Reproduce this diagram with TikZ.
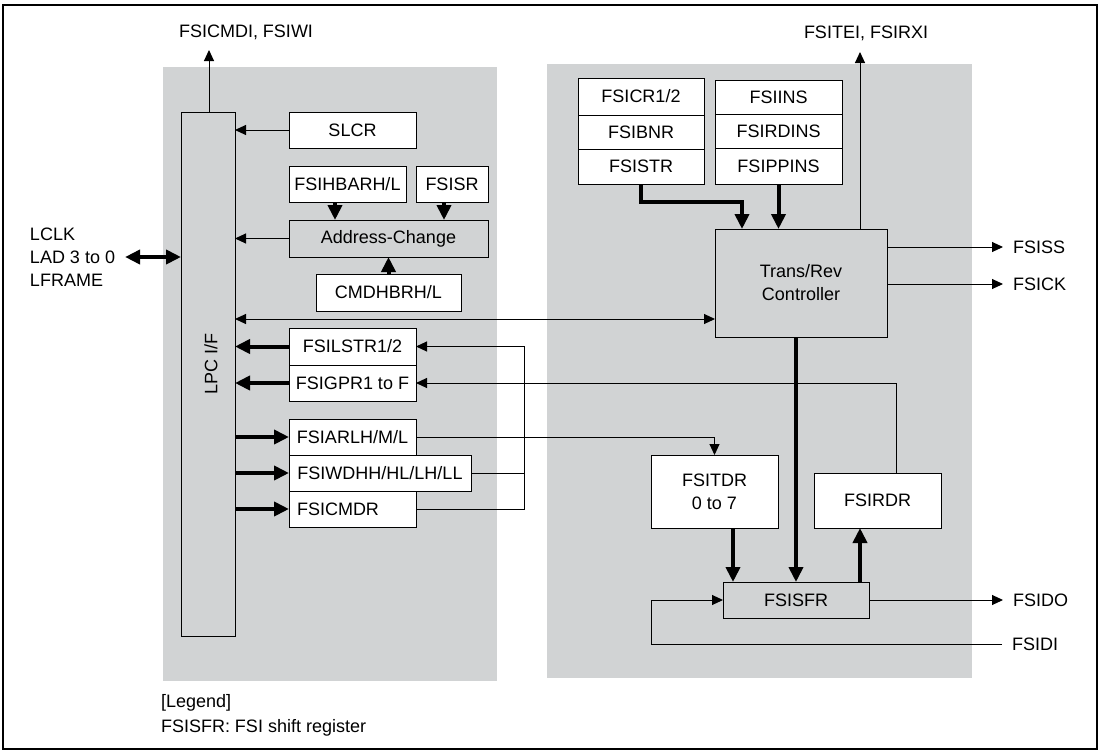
\documentclass[tikz,border=0pt]{standalone}
\usepackage{fontspec}
\setmainfont{Liberation Sans}
\usetikzlibrary{arrows.meta}
\definecolor{panelgray}{RGB}{209,211,212}
\begin{document}
\begin{tikzpicture}[x=1pt,y=-1pt,
  every node/.style={font=\fontsize{18}{23}\selectfont},
  reg/.style={draw=black, line width=1pt, fill=white, inner sep=0pt, outer sep=0pt, align=center},
  greg/.style={reg, fill=panelgray},
  lbl/.style={inner sep=0pt, outer sep=0pt},
  outlbl/.style={inner xsep=10pt, inner ysep=0pt, outer sep=0pt, anchor=west},
  thinarrow/.style={line width=1pt, -{Triangle[length=11pt,width=10pt]}},
  thinboth/.style={line width=1pt, {Triangle[length=11pt,width=10pt]}-{Triangle[length=11pt,width=10pt]}},
  thinline/.style={line width=1pt},
  thickarrow/.style={line width=4pt, -{Triangle[length=15pt,width=14pt]}},
  thickboth/.style={line width=4pt, {Triangle[length=15pt,width=14pt]}-{Triangle[length=15pt,width=14pt]}}
]
\useasboundingbox (0,0) rectangle (1101,753);
% frame and panels
\draw[line width=2pt] (3,5) rectangle (1097,749);
\fill[panelgray] (163,67) rectangle (497,681);
\fill[panelgray] (547,64) rectangle (972,678);

% left panel nodes
\node[greg, minimum width=54pt, minimum height=524pt] (lpc) at (208,374) {};
\node[lbl, rotate=90] (lpclabel) at (211,364) {LPC I/F};
\node[reg, minimum width=127pt, minimum height=36pt] (slcr) at (352.5,130) {SLCR};
\node[reg, minimum width=117pt, minimum height=36pt] (hbar) at (347.5,184) {FSIHBARH/L};
\node[reg, minimum width=72pt, minimum height=36pt] (fsisr) at (452,184) {FSISR};
\node[greg, minimum width=199pt, minimum height=37pt] (addr) at (388.5,238.5) {Address-Change};
\node[reg, minimum width=145pt, minimum height=37pt] (cmdh) at (388.5,292.5) {CMDHBRH/L};
\node[reg, minimum width=127pt, minimum height=37pt] (lstr) at (352.5,346.5) {FSILSTR1/2};
\node[reg, minimum width=127pt, minimum height=36pt] (gpr) at (352.5,383) {FSIGPR1 to F};
\node[reg, minimum width=127pt, minimum height=36pt] (arlh) at (352.5,437) {FSIARLH/M/L};
\node[reg, minimum width=182pt, minimum height=36pt] (wdhh) at (380,473) {FSIWDHH/HL/LH/LL};
\node[reg, minimum width=127pt, minimum height=36pt, text width=111pt, inner xsep=8pt, align=left] (cmdr) at (352.5,509) {FSICMDR};

% right panel nodes
\node[reg, minimum width=126pt, minimum height=37pt] (cr1) at (641,96.5) {FSICR1/2};
\node[reg, minimum width=126pt, minimum height=34pt] (bnr) at (641,132) {FSIBNR};
\node[reg, minimum width=126pt, minimum height=35pt] (str) at (641,166.5) {FSISTR};
\node[reg, minimum width=127pt, minimum height=34pt] (ins) at (778.5,97) {FSIINS};
\node[reg, minimum width=127pt, minimum height=34pt] (rdins) at (778.5,131) {FSIRDINS};
\node[reg, minimum width=127pt, minimum height=36pt] (ppins) at (778.5,166) {FSIPPINS};
\node[greg, minimum width=172pt, minimum height=108pt] (trc) at (801,283) {Trans/Rev\\Controller};
\node[reg, minimum width=127pt, minimum height=73pt] (tdr) at (714.5,491.5) {FSITDR\\0 to 7};
\node[reg, minimum width=127pt, minimum height=55pt] (rdr) at (877.5,500.5) {FSIRDR};
\node[greg, minimum width=146pt, minimum height=36pt] (sfr) at (796,600) {FSISFR};

% outside labels
\node[lbl] (cmdi) at (246,32) {FSICMDI, FSIWI};
\node[lbl] (tei) at (866,33) {FSITEI, FSIRXI};
\node[lbl, anchor=west, align=left] (lclk) at (30,257) {LCLK\\LAD 3 to 0\\LFRAME};
\node[outlbl] (ss) at (1003,247) {FSISS};
\node[outlbl] (ck) at (1003,284) {FSICK};
\node[outlbl] (do) at (1003,600) {FSIDO};
\node[outlbl] (di) at (1002,644) {FSIDI};
\node[lbl, anchor=west] (leg1) at (161,703) {[Legend]};
\node[lbl, anchor=west] (leg2) at (161,728) {FSISFR: FSI shift register};

\coordinate (cmdiend) at (209,50);
\coordinate (teiend) at (860,52);
\coordinate (bus) at (524,346.5);
\path ([yshift=-36pt]trc.west) coordinate (trcin);

% left connectors
\draw[thinarrow] (lpc.north -| cmdiend) -- (cmdiend);
\draw[thinarrow] (slcr.west) -- (slcr.west -| lpc.east);
\draw[thinarrow] (addr.west) -- (addr.west -| lpc.east);
\draw[thickarrow] ([xshift=-12.5pt]hbar.south) -- ++(0,18);
\draw[thickarrow] ([xshift=-8pt]fsisr.south) -- ++(0,18);
\draw[thickarrow] (cmdh.north) -- (cmdh.north |- addr.south);
\draw[thickboth] ([xshift=10pt]lclk.east) -- (lclk.east -| lpc.west);
\draw[thinboth] (trcin -| lpc.east) -- (trcin);
\draw[thickarrow] (lstr.west) -- (lstr.west -| lpc.east);
\draw[thickarrow] (gpr.west) -- (gpr.west -| lpc.east);
\draw[thickarrow] (arlh.west -| lpc.east) -- (arlh.west);
\draw[thickarrow] (wdhh.west -| lpc.east) -- (wdhh.west);
\draw[thickarrow] (cmdr.west -| lpc.east) -- (cmdr.west);
\draw[thinarrow] (cmdr.east) -| (bus) -- (lstr.east);
\draw[thinline] (wdhh.east) -- (wdhh.east -| bus);
\draw[thinarrow] ([xshift=18.5pt]rdr.north) |- (gpr.east);
\draw[thinarrow] (arlh.east) -| (tdr.north);

% right connectors
\draw[thickarrow] (str.south) -- ++(0,18) -| ([xshift=-59pt]trc.north);
\draw[thickarrow] (ppins.south) -- (ppins.south |- trc.north);
\draw[thinarrow] (trc.north -| teiend) -- (teiend);
\draw[thinarrow] (ss.west -| trc.east) -- (ss.west);
\draw[thinarrow] (ck.west -| trc.east) -- (ck.west);
\draw[thinarrow] (do.west -| sfr.east) -- (do.west);
\draw[thinarrow] (di.west) -| ([xshift=-72pt]sfr.west) -- (sfr.west);
\draw[thickarrow] ([xshift=18.5pt]tdr.south) -- ++(0,54);
\draw[thickarrow] (sfr.north |- trc.south) -- (sfr.north);
\draw[thickarrow] ([xshift=64pt]sfr.north) -- ++(0,-54);
\end{tikzpicture}
\end{document}
